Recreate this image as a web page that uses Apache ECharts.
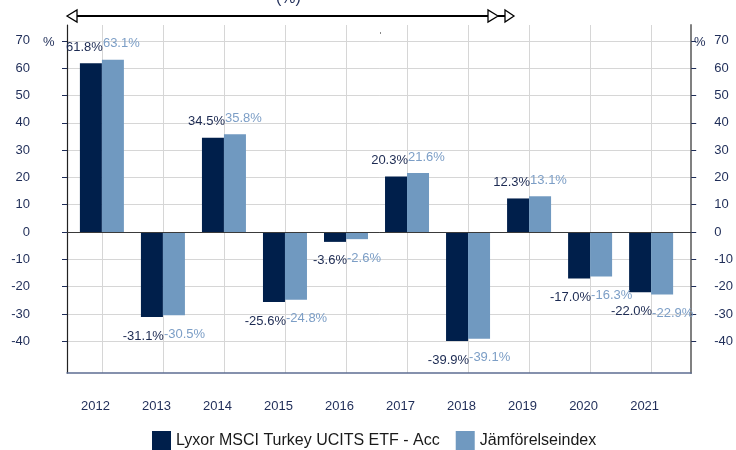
<!DOCTYPE html>
<html><head><meta charset="utf-8">
<script src="https://cdn.jsdelivr.net/npm/echarts@6/dist/echarts.min.js"></script>
<style>html,body{margin:0;padding:0;background:#fff}#c{width:736px;height:450px}</style>
</head><body><div id="c"></div>
<script>
const years = ['2012','2013','2014','2015','2016','2017','2018','2019','2020','2021'];
const fundName = 'Lyxor MSCI Turkey UCITS ETF - Acc';
const indexName = 'Jämförelseindex';
const fundValues = [61.8, -31.1, 34.5, -25.6, -3.6, 20.3, -39.9, 12.3, -17.0, -22.0];
const indexValues = [63.1, -30.5, 35.8, -24.8, -2.6, 21.6, -39.1, 13.1, -16.3, -22.9];
const yTicks = [-40, -30, -20, -10, 0, 10, 20, 30, 40, 50, 60, 70];

const FONT = 'Liberation Sans, Arial, sans-serif';
const NAVY = '#1f2d58';
const DARK = '#001f4b';
const LIGHT = '#7099c0';
const xIdx = years.map((y, i) => i);

function items(vals, dx) {
  return vals.map((v, i) => ({
    value: [i, v],
    label: { distance: v >= 0 ? 9.5 : 12.5, offset: [dx, 0] }
  }));
}

const chart = echarts.init(document.getElementById('c'), null, { renderer: 'canvas' });
chart.setOption({
  animation: false,
  backgroundColor: '#fff',
  textStyle: { fontFamily: FONT },
  grid: { left: 67, right: 43, top: 25, bottom: 77, containLabel: false },
  legend: {
    data: [fundName, indexName],
    left: 152, top: 431, padding: 0,
    itemWidth: 19, itemHeight: 19, itemGap: 16,
    icon: 'rect',
    textStyle: { fontSize: 16, color: '#1a1a1a', fontFamily: FONT }
  },
  xAxis: {
    type: 'value',
    min: -0.572, max: 9.657,
    axisLine: { show: true, onZero: false, lineStyle: { color: '#5d6d92', width: 1.5 } },
    axisTick: { show: true, length: 0, customValues: xIdx, lineStyle: { color: 'rgba(0,0,0,0)' } },
    axisLabel: {
      customValues: xIdx,
      formatter: v => years[Math.round(v)],
      margin: 27, fontSize: 13, color: NAVY, padding: [0, 13, 0, 0]
    },
    splitLine: { show: true, lineStyle: { color: '#d6d6d6', width: 1 } }
  },
  yAxis: [
    {
      type: 'value', position: 'left',
      min: -51.6, max: 75.8,
      axisLine: { show: true, onZero: false, lineStyle: { color: '#222', width: 1.2 } },
      axisTick: { show: true, length: 5, customValues: yTicks, lineStyle: { color: NAVY } },
      axisLabel: { customValues: yTicks, margin: 37, fontSize: 13, color: NAVY },
      splitLine: { show: true, lineStyle: { color: '#d6d6d6', width: 1 } }
    },
    {
      type: 'value', position: 'right',
      min: -51.6, max: 75.8,
      axisLine: { show: true, onZero: false, lineStyle: { color: '#808080', width: 2 } },
      axisTick: { show: true, length: 5, customValues: yTicks, lineStyle: { color: NAVY } },
      axisLabel: { customValues: yTicks, margin: 23, fontSize: 13, color: NAVY },
      splitLine: { show: false }
    }
  ],
  series: [
    {
      name: fundName, type: 'bar', yAxisIndex: 0,
      barWidth: 22, barGap: '0%',
      itemStyle: { color: DARK },
      data: items(fundValues, 12),
      label: {
        show: true, position: 'outside', align: 'right',
        fontSize: 13, color: '#1c2a52', fontFamily: FONT,
        formatter: p => p.value[1].toFixed(1) + '%'
      },
      markLine: {
        silent: true, symbol: 'none', label: { show: false },
        lineStyle: { color: '#3a3a3a', width: 1, type: 'solid' },
        data: [{ yAxis: 0 }]
      }
    },
    {
      name: indexName, type: 'bar', yAxisIndex: 0,
      barWidth: 22, barGap: '0%',
      itemStyle: { color: LIGHT },
      data: items(indexValues, -10),
      label: {
        show: true, position: 'outside', align: 'left',
        fontSize: 13, color: '#7c9ec6', fontFamily: FONT,
        formatter: p => p.value[1].toFixed(1) + '%'
      }
    }
  ],
  graphic: [
    { type: 'text', left: 276, top: -9, style: { text: '(%)', font: '16px ' + FONT, fill: NAVY } },
    { type: 'line', shape: { x1: 77, y1: 16, x2: 488, y2: 16 }, style: { stroke: '#000', lineWidth: 2 } },
    { type: 'line', shape: { x1: 498, y1: 16, x2: 505, y2: 16 }, style: { stroke: '#000', lineWidth: 2 } },
    { type: 'polygon', shape: { points: [[67, 16], [77, 10], [77, 22]] }, style: { fill: '#fff', stroke: '#000', lineWidth: 1.3 } },
    { type: 'polygon', shape: { points: [[498, 16], [488, 10], [488, 22]] }, style: { fill: '#fff', stroke: '#000', lineWidth: 1.3 } },
    { type: 'polygon', shape: { points: [[514, 16], [505, 10], [505, 22]] }, style: { fill: '#fff', stroke: '#000', lineWidth: 1.3 } },
    { type: 'rect', shape: { x: 380, y: 32, width: 1, height: 2 }, style: { fill: '#888' } },
    { type: 'text', x: 43, y: 42, style: { text: '%', font: '13px ' + FONT, fill: NAVY, verticalAlign: 'middle' } },
    { type: 'text', x: 694, y: 42, style: { text: '%', font: '13px ' + FONT, fill: NAVY, verticalAlign: 'middle' } }
  ]
});
</script>
</body></html>
